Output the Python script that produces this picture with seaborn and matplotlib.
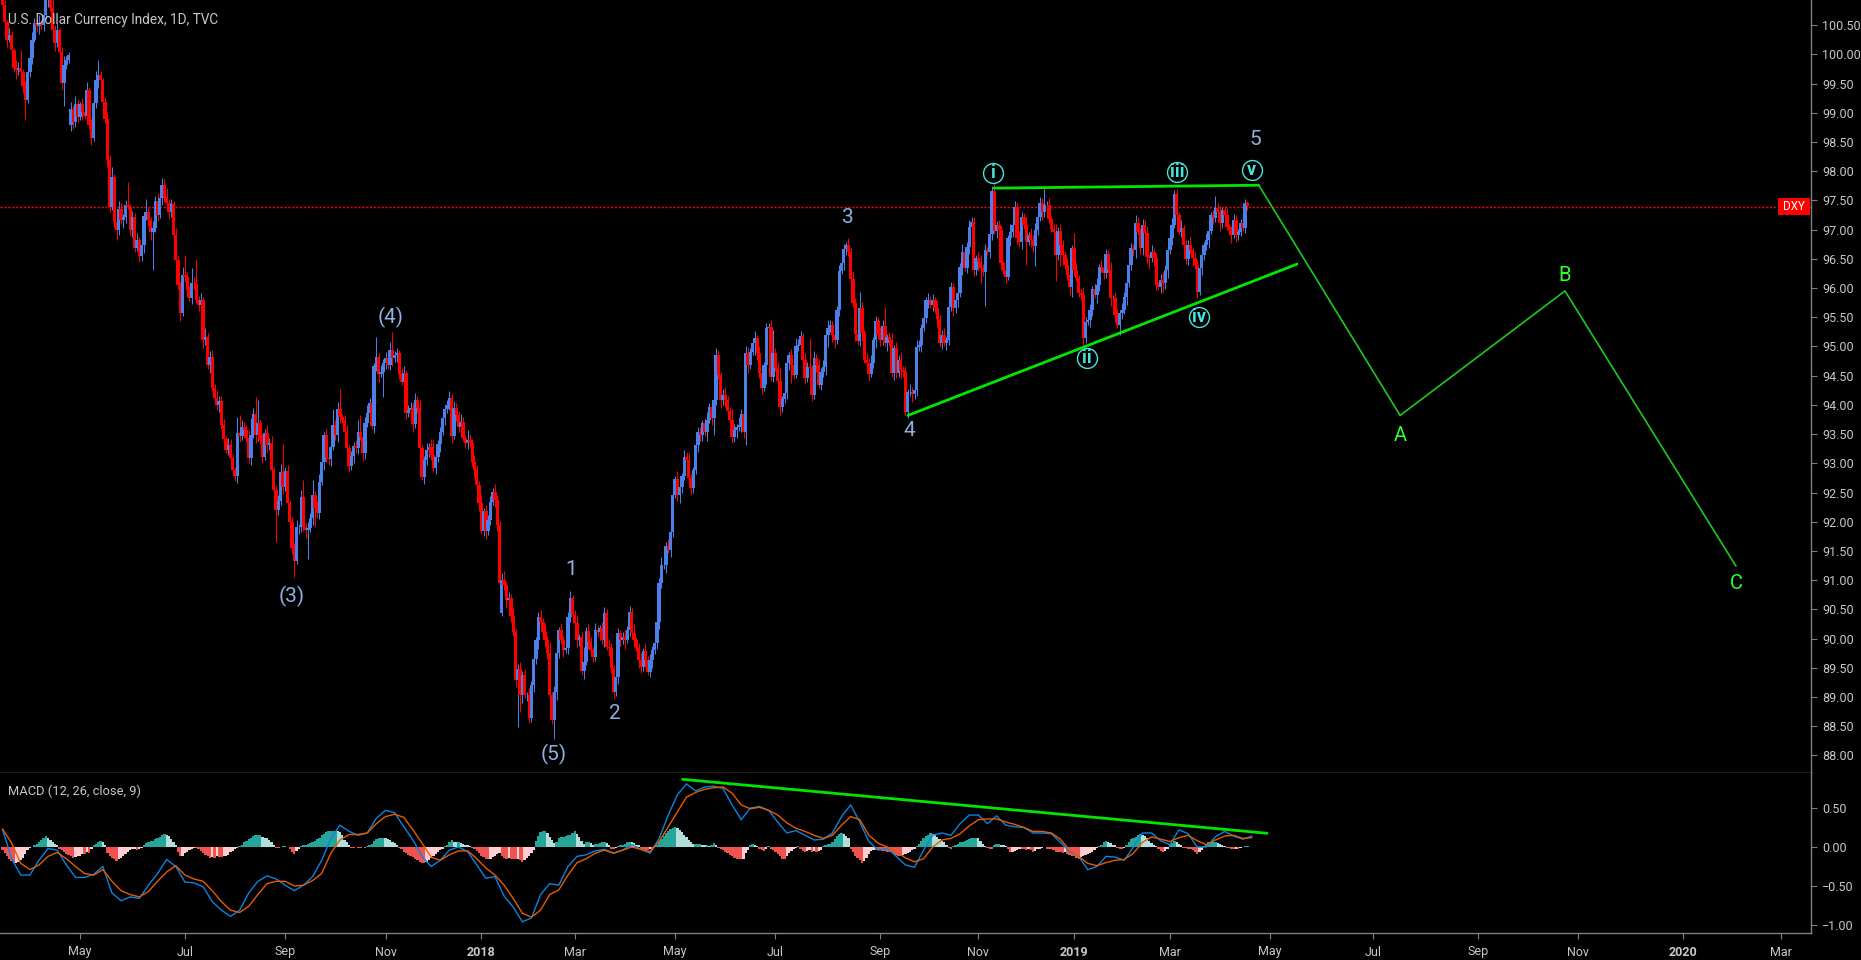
import numpy as np
import pandas as pd
import seaborn as sns
import matplotlib
matplotlib.use('Agg')
import matplotlib.pyplot as plt
from matplotlib.patches import Rectangle

# DXY daily closes, one per trading bar
closes = [
    100.84,100.55,100.25,100.33,100.07,99.77,99.73,99.77,99.70,99.46,99.22,99.70,99.94,100.25,100.54,100.48,100.52,100.50,100.67,100.93,
    101.00,100.80,100.42,100.19,100.42,100.04,99.51,99.82,99.90,99.99,99.06,98.84,99.15,98.93,99.15,99.01,98.94,99.39,98.79,98.57,
    99.17,99.56,99.65,99.56,99.18,98.89,98.19,97.39,97.90,97.13,96.99,97.35,97.16,97.21,97.42,97.39,96.99,97.21,96.68,96.82,
    96.55,96.74,97.23,97.30,97.16,96.96,97.03,97.49,97.25,97.54,97.76,97.56,97.45,97.30,97.44,96.91,96.48,96.05,95.57,96.22,
    96.19,95.96,95.83,96.08,96.07,95.79,95.71,95.79,95.11,95.16,94.68,94.82,94.29,94.12,94.00,94.07,93.65,93.41,93.23,93.31,
    93.09,92.88,92.78,93.52,93.47,93.62,93.57,93.43,93.09,93.48,93.84,93.48,93.69,93.40,93.11,93.52,93.31,93.35,92.88,92.54,
    92.20,92.35,92.85,92.59,92.87,92.32,92.00,91.55,91.33,91.91,91.91,92.42,91.91,91.86,91.89,92.06,92.46,92.23,92.15,92.68,
    93.02,93.48,93.09,93.07,93.28,93.65,93.48,93.93,93.79,93.74,93.53,93.26,92.95,93.12,93.29,93.26,93.53,93.45,93.17,93.69,
    93.86,94.03,93.64,94.66,94.82,94.53,94.56,94.72,94.80,94.68,94.94,94.80,94.85,94.89,94.53,94.39,94.54,93.86,93.91,93.95,
    93.67,94.08,93.95,93.26,92.76,93.05,93.23,93.28,93.14,92.92,93.11,93.33,93.53,93.77,93.93,94.00,94.12,93.47,93.95,93.83,
    93.62,93.71,93.43,93.35,93.40,93.35,93.02,92.88,92.63,92.32,91.84,92.18,91.84,92.03,92.34,92.51,92.37,91.94,90.95,91.00,
    90.92,90.66,90.69,90.38,90.11,89.29,89.48,89.03,89.37,89.03,89.03,88.64,89.20,89.65,89.97,90.37,90.28,90.11,89.97,89.75,
    89.03,88.60,89.08,89.75,90.14,89.97,89.80,89.84,90.37,90.69,90.40,90.26,89.97,90.02,89.44,89.60,90.13,89.94,89.80,89.68,
    90.14,90.11,90.18,89.97,90.44,89.85,89.84,89.49,89.08,89.34,90.09,89.97,90.02,89.97,90.14,90.45,90.09,89.97,89.84,89.63,
    89.51,89.78,89.63,89.43,89.63,89.80,89.92,90.28,90.95,91.26,91.26,91.58,91.51,91.82,92.46,92.73,92.46,92.59,92.78,93.11,
    93.05,92.75,92.58,92.88,93.31,93.53,93.48,93.69,93.53,93.74,93.96,93.77,94.08,94.85,94.51,94.08,94.17,94.08,93.89,93.74,
    93.45,93.57,93.62,93.65,93.84,93.53,94.89,94.68,94.90,95.06,95.14,94.89,94.54,94.29,94.68,95.31,95.33,94.48,94.89,94.63,
    94.41,93.96,94.10,94.20,94.72,94.85,94.68,94.51,95.01,95.02,95.18,94.77,94.46,94.65,94.63,94.17,94.80,94.68,94.34,94.56,
    94.65,95.19,95.31,95.37,95.19,95.11,95.62,96.29,96.43,96.67,96.74,96.62,96.15,95.74,95.21,95.09,95.66,95.23,94.77,94.72,
    94.53,94.72,95.11,95.43,95.19,95.11,95.35,95.06,95.16,95.11,94.54,94.97,94.54,94.77,94.60,94.56,93.88,94.22,94.22,94.18,
    94.25,94.99,95.02,95.31,95.49,95.79,95.79,95.71,95.79,95.66,95.47,95.06,95.19,95.06,95.11,95.67,96.02,95.66,95.79,95.91,
    96.36,96.62,96.34,96.70,97.04,97.13,96.31,96.51,96.44,96.34,96.27,96.65,96.62,96.92,97.66,96.98,97.08,96.99,96.43,96.31,
    96.19,96.86,96.96,97.08,97.39,96.86,96.79,97.21,97.08,96.79,96.91,96.82,96.72,96.99,97.21,97.45,97.30,97.42,97.42,97.18,
    97.01,96.96,96.56,96.98,96.74,96.56,96.39,96.22,96.02,96.68,96.31,96.17,95.91,95.88,95.14,95.42,95.45,95.62,95.98,95.88,
    96.05,96.36,96.34,96.26,96.58,96.31,95.83,95.83,95.54,95.37,95.57,95.62,95.85,96.08,96.39,96.68,96.65,97.11,96.96,96.68,
    97.08,96.94,96.53,96.51,96.62,96.51,96.05,96.02,96.14,96.08,96.31,96.65,96.86,97.08,97.61,97.25,96.96,97.03,96.74,96.50,
    96.74,96.65,96.51,96.39,95.93,96.34,96.56,96.74,96.82,96.98,97.25,97.20,97.37,97.30,97.11,97.33,97.25,97.04,96.99,96.91,
    97.16,96.91,96.96,97.11,97.03,97.45,97.40,
]
# opens follow the previous close except where the chart shows a gap
open_gaps = {30: 98.79, 219: 90.44}

# wick lengths in hundredths of a point
wick_up = [
    6,9,4,12,7,3,14,10,30,5,8,11,6,13,9,4,15,7,10,12,
    6,5,14,8,11,3,9,16,7,5,12,6,14,9,4,11,8,13,5,10,
    7,15,25,6,4,9,12,8,18,5,7,14,10,6,9,40,5,11,8,13,
    6,10,7,22,9,5,12,8,14,6,12,10,15,7,9,5,12,8,6,14,
    34,9,7,27,11,42,8,13,5,16,7,10,12,6,14,9,8,11,5,13,
    10,7,6,27,30,12,9,8,14,30,10,30,40,7,11,6,13,9,12,5,
    8,10,14,48,7,11,6,9,8,12,5,13,30,7,10,9,25,6,12,14,
    8,5,11,7,9,28,10,12,34,6,8,13,5,9,7,11,22,30,6,10,
    14,8,9,5,34,7,12,6,10,8,14,30,7,9,5,11,13,6,8,10,
    9,12,7,14,5,8,11,6,13,26,9,7,10,12,5,8,12,6,11,9,
    7,13,8,5,17,10,6,12,9,7,14,5,11,8,10,6,13,9,7,12,
    15,5,10,8,14,6,9,12,7,11,5,13,8,10,6,9,12,7,14,8,
    20,5,11,9,6,13,7,10,8,12,5,9,14,6,10,26,7,12,8,5,
    13,9,6,11,10,7,14,8,5,12,9,6,10,13,7,11,8,16,5,9,
    12,6,14,7,10,8,5,11,9,13,6,8,12,7,10,5,14,9,6,11,
    8,12,7,5,13,10,9,6,8,14,7,11,5,12,9,6,10,13,8,7,
    19,11,5,14,9,6,12,10,7,8,13,5,11,14,6,9,7,12,40,8,
    10,22,5,13,9,6,11,7,14,10,8,5,12,9,50,6,13,7,10,8,
    11,5,14,9,6,12,7,10,13,8,5,11,6,14,9,7,27,10,5,12,
    8,13,6,9,7,14,10,32,5,8,12,6,11,9,13,7,10,5,14,8,
    6,12,9,7,11,5,13,8,10,6,14,7,9,12,5,11,8,6,13,10,
    7,14,5,9,12,9,8,6,11,13,7,10,5,12,8,14,6,9,7,4,
    11,5,13,8,10,6,12,9,7,14,5,11,8,13,6,10,9,30,7,12,
    5,8,14,6,11,9,7,13,10,5,27,12,6,8,14,9,7,11,5,10,
    13,6,12,8,9,7,14,5,11,10,6,13,8,12,5,9,7,14,10,6,
    11,8,13,5,12,7,9,6,10,14,8,5,11,12,7,9,6,13,5,10,
    8,14,6,11,9,7,12,5,13,10,6,8,20,9,11,5,7,12,6,8,
    10,9,5,7,6,8,4,
]
wick_dn = [
    5,8,12,4,10,7,15,9,6,13,34,5,8,11,4,9,14,6,10,7,
    12,5,9,13,6,8,10,39,7,5,11,12,8,10,6,13,4,9,7,12,
    5,8,14,6,10,7,12,9,5,11,17,8,6,13,10,4,9,12,7,5,
    11,8,14,6,9,13,65,7,10,5,12,8,6,11,9,14,10,7,13,5,
    8,12,6,10,9,4,11,7,13,8,6,14,5,10,9,12,7,11,6,8,
    13,5,9,12,10,7,14,6,8,11,5,13,9,7,10,6,12,8,14,5,
    55,9,7,11,6,13,8,10,27,5,12,9,7,14,49,6,11,32,8,10,
    5,13,7,9,12,6,8,11,10,5,14,7,9,6,12,8,10,5,13,9,
    7,11,6,12,8,14,5,42,10,7,9,13,6,11,8,5,12,10,7,9,
    14,6,8,11,5,12,7,13,9,6,10,8,14,5,11,7,9,12,6,10,
    8,13,5,9,11,7,6,12,10,14,5,8,13,7,9,6,11,10,12,5,
    8,14,6,9,7,11,80,29,13,5,10,8,6,12,9,14,7,5,11,10,
    8,6,31,13,9,7,12,5,10,8,14,6,11,9,7,13,5,12,10,8,
    6,9,14,7,11,5,13,8,10,6,12,9,7,14,5,10,8,11,6,13,
    9,7,12,5,8,14,6,10,11,9,7,13,5,12,8,6,10,14,9,7,
    11,5,13,8,6,12,10,9,7,14,5,11,29,8,6,13,9,12,7,5,
    10,8,14,6,11,9,22,13,7,5,20,12,8,10,6,32,14,7,9,5,
    11,13,8,6,10,12,30,7,5,9,14,8,11,6,13,10,7,12,5,9,
    8,14,20,6,11,13,7,9,5,12,10,8,14,6,11,7,9,13,5,10,
    12,6,8,14,7,11,9,5,13,10,6,12,8,7,14,9,5,11,6,13,
    8,10,7,12,5,9,14,6,11,8,13,7,10,5,12,9,6,14,8,11,
    7,13,5,9,12,6,10,8,14,25,7,58,5,11,9,6,13,8,12,7,
    10,5,14,9,6,11,8,13,7,39,5,12,10,34,8,6,14,9,11,7,
    5,13,44,8,37,12,6,9,14,17,10,5,7,11,13,8,6,12,9,5,
    14,10,7,11,8,6,13,9,12,5,17,10,7,14,6,8,11,13,5,9,
    12,7,10,19,6,14,8,5,11,17,9,13,7,12,6,10,5,8,14,9,
    11,6,13,7,10,5,12,8,9,14,6,11,7,13,14,8,10,5,9,14,
    6,12,8,7,5,9,6,
]

# MACD and signal read at every 4th bar
macd_step = 4
macd_line = [
    .23,-.15,-.36,-.36,-.17,-.02,-.04,-.23,-.39,-.39,-.35,-.25,-.59,-.69,-.64,-.66,-.49,-.34,-.16,-.25,
    -.45,-.46,-.51,-.70,-.81,-.89,-.81,-.59,-.44,-.37,-.41,-.49,-.56,-.49,-.38,-.17,.11,.28,.20,.15,
    .18,.37,.47,.44,.26,.09,-.12,-.25,-.17,-.04,0,-.06,-.23,-.40,-.38,-.63,-.77,-.96,-.91,-.61,
    -.47,-.49,-.25,-.12,-.10,-.05,-.03,-.08,-.04,.03,-.03,-.08,.11,.41,.67,.81,.72,.77,.78,.75,
    .54,.35,.50,.52,.47,.32,.18,.21,.15,.09,.10,.18,.39,.54,.32,.07,-.04,-.02,-.12,-.23,
    -.26,-.04,.15,.18,.15,.30,.41,.41,.30,.40,.28,.26,.25,.18,.18,.17,.06,-.06,-.12,-.29,
    -.25,-.12,-.13,-.17,0,.18,.18,.08,.03,.22,.17,0,0,.13,.20,.14,.10,.14,
]
signal_line = [
    .23,.05,-.21,-.29,-.23,-.12,-.07,-.15,-.25,-.34,-.36,-.29,-.44,-.56,-.61,-.64,-.57,-.44,-.32,-.24,
    -.36,-.41,-.44,-.56,-.70,-.81,-.84,-.76,-.61,-.47,-.44,-.44,-.50,-.49,-.43,-.34,-.08,.09,.16,.16,
    .18,.30,.39,.42,.38,.22,.05,-.13,-.17,-.10,-.05,-.05,-.15,-.27,-.36,-.49,-.66,-.85,-.90,-.81,
    -.61,-.55,-.36,-.20,-.15,-.08,-.04,-.08,-.04,0,-.03,-.06,.07,.26,.45,.64,.70,.74,.76,.77,
    .69,.54,.49,.51,.47,.41,.31,.24,.20,.15,.11,.15,.28,.39,.35,.15,.05,0,-.06,-.14,
    -.19,-.15,0,.09,.11,.17,.27,.35,.36,.36,.32,.29,.25,.20,.20,.18,.10,-.04,-.12,-.21,
    -.24,-.20,-.17,-.16,-.08,.06,.13,.10,.07,.12,.15,.08,.03,.09,.14,.15,.11,.12,
]
# histogram per bar, hundredths
macd_hist = [
    -4,-8,-12,-16,-18,-21,-20,-19,-17,-14,-9,-4,-1,0,
    2,4,6,9,11,14,12,9,6,4,2,
    -2,-4,-6,-9,-10,-12,-14,-13,-12,-11,-9,-9,-7,-8,-3,
    2,4,7,8,6,3,
    -8,-11,-14,-16,-18,-16,-14,-12,-9,-6,-4,-3,-2,-4,-3,-1,
    2,5,7,8,8,10,11,13,16,17,16,14,10,7,3,
    -6,-12,-11,-8,-6,-4,-2,-1,-1,-3,-5,-8,-10,-12,-14,-13,-14,-12,-13,-13,-12,-11,-10,-7,-5,-3,-1,
    1,3,6,8,10,12,14,15,15,15,13,12,11,9,6,2,
    -1,-1,0,1,1,0,-2,-6,-9,-5,-2,
    1,2,3,4,5,6,8,10,12,15,17,19,20,21,21,21,20,19,15,9,6,2,
    -1,-1,0,-1,-1,0,-1,
    1,3,4,8,10,12,12,12,11,10,9,7,5,2,
    -1,-3,-6,-8,-10,-12,-13,-15,-17,-19,-20,-21,-19,-17,-14,-12,-9,-7,-4,-2,
    1,3,7,9,7,6,6,5,4,3,2,1,
    -1,-3,-5,-8,-11,-13,-15,-16,-15,-13,-11,-9,-8,-12,-14,-15,-14,-15,-15,-16,-15,-17,-19,-17,-14,-11,-8,-4,
    8,14,19,21,21,18,13,9,5,7,11,13,13,14,15,16,18,20,17,13,8,4,
    6,6,5,3,4,4,5,6,7,5,2,-2,-3,-1,
    1,2,3,4,6,7,6,5,3,2,-2,-3,-4,-4,-3,-3,
    1,3,6,10,14,18,21,23,25,26,24,22,19,16,13,9,6,4,
    4,4,4,3,2,2,1,2,5,2,
    -1,-2,-4,-6,-8,-10,-12,-14,-16,-16,-16,-15,-8,-4,
    2,4,3,1,-2,-4,-5,-2,1,
    -2,-4,-7,-9,-12,-15,-15,-12,-8,-5,-3,-1,
    1,-2,-5,-6,-5,-4,-7,-5,-7,-5,-4,
    1,3,4,4,6,10,14,17,18,17,14,11,
    -3,-7,-11,-14,-17,-20,-18,-14,-9,-5,-4,-4,-4,-4,-5,-5,-6,-6,-7,-9,-10,-11,-11,-10,-9,-8,-6,-4,-2,
    1,4,8,11,14,16,18,17,15,13,10,8,6,2,
    -1,-3,1,2,4,6,7,8,9,10,11,12,12,11,8,4,1,
    -1,-3,-3,2,4,4,3,2,1,
    -3,-7,-6,-5,-4,-3,-3,-3,-4,-3,-4,-6,-5,-3,-2,-1,0,
    -2,-2,-3,-4,-6,-6,-7,-8,-6,-9,-10,-11,-12,-14,-15,-13,-11,-10,-9,-8,-6,-4,-1,
    1,3,6,8,6,5,3,2,-1,-2,-2,-1,
    3,6,10,12,13,15,17,16,14,11,8,5,3,1,
    -2,-5,-6,-5,-3,2,5,8,7,4,2,
    -1,-1,-2,-3,-4,-6,-9,-7,-4,
    1,3,6,6,6,6,5,4,3,1,
    -1,-1,-2,-3,-2,-2,-1,0,1,1,
]

last_price = 97.39
tick_bars = [34,80,124,168,210,251,295,339,385,428,470,512,556,601,647,691,737,780]
tick_names = ['May','Jul','Sep','Nov','2018','Mar','May','Jul','Sep','Nov','2019','Mar','May','Jul','Sep','Nov','2020','Mar']
price_ticks = np.arange(88, 100.75, 0.5)
macd_ticks = [0.5, 0.0, -0.5, -1.0]

# wave drawings: (bar, price)
upper_trend = ([434.9, 551], [97.71, 97.76])
lower_trend = ([397.1, 567.8], [93.82, 96.41])
abc_path = ([551, 613, 685.3, 760.3], [97.76, 93.82, 95.95, 91.24])
macd_trend = ([298.3, 554.6], [0.868, 0.176])
wave_labels = [('(3)',127,90.73),('(4)',170.4,95.50),('(5)',241.9,88.02),('1',249.3,91.19),
               ('2',268.6,88.71),('3',370.8,97.21),('4',397.6,93.57),('5',549.3,98.55)]
circle_labels = [('i',434.4,97.97),('ii',475.7,94.80),('iii',515.1,97.99),('iv',524.6,95.50),('v',548,98.02)]
abc_labels = [('A',613,93.48),('B',685.3,96.22),('C',760.3,90.95)]

sns.set_theme(style='dark', rc={'axes.facecolor': 'black', 'figure.facecolor': 'black'})
plt.rcParams['font.family'] = ['Roboto', 'DejaVu Sans']

GRAY = '#808080'
TXT = '#c8c8c8'
UP = '#4a80e8'
DOWN = '#ff0000'
GREEN = '#00e600'
WAVE = '#8fb0e0'
CYAN = '#45e6dc'

n = len(closes)
bars = np.arange(n)
df = pd.DataFrame({'bar': bars, 'close': closes})
df['open'] = df['close'].shift(1).fillna(100.93)
for k, v in open_gaps.items():
    df.loc[k, 'open'] = v
df['up'] = np.array((wick_up + [8] * n)[:n]) / 100
df['dn'] = np.array((wick_dn + [8] * n)[:n]) / 100
df['top'] = df[['open', 'close']].max(axis=1)
df['bot'] = df[['open', 'close']].min(axis=1)
df['color'] = np.where(df['close'] >= df['open'], UP, DOWN)

W, H = 1861, 960
fig = plt.figure(figsize=(W / 100, H / 100), dpi=100)
ax = fig.add_axes([0, (H - 773) / H, 1811 / W, 773 / H])
ax2 = fig.add_axes([0, (H - 933) / H, 1811 / W, 160 / H])

# candles
ax.vlines(df['bar'], df['bot'] - df['dn'], df['top'] + df['up'], colors=df['color'], linewidth=0.75, zorder=2)
ax.bar(df['bar'], df['top'] - df['bot'], bottom=df['bot'], width=1.45, color=df['color'], linewidth=0, zorder=3)

ax.axhline(last_price, color=DOWN, linewidth=1, dashes=(1.6, 1.2), zorder=1)
ax.add_patch(Rectangle((1778 / 1811, last_price - 0.145), 32 / 1811, 0.29,
                       transform=ax.get_yaxis_transform(), facecolor=DOWN, edgecolor='none', zorder=6))
ax.text(1794 / 1811, last_price, 'DXY', transform=ax.get_yaxis_transform(), color='white',
        fontsize=8.4, ha='center', va='center', zorder=7)

sns.lineplot(x=upper_trend[0], y=upper_trend[1], color=GREEN, linewidth=2, ax=ax, zorder=4)
sns.lineplot(x=lower_trend[0], y=lower_trend[1], color=GREEN, linewidth=2, ax=ax, zorder=4)
sns.lineplot(x=abc_path[0], y=abc_path[1], color='#1fc81f', linewidth=1.2, sort=False, ax=ax, zorder=4)

for txt, b, p in wave_labels:
    ax.text(b, p, txt, color=WAVE, fontsize=15, ha='center', va='center', zorder=5)
for txt, b, p in abc_labels:
    ax.text(b, p, txt, color='#33ff33', fontsize=14.5, ha='center', va='center', zorder=5)
for txt, b, p in circle_labels:
    ax.scatter([b], [p], s=205, facecolors='black', edgecolors=CYAN, linewidths=1, zorder=5)
    ax.text(b, p, txt, color=CYAN, fontsize=13, fontweight='bold', ha='center', va='center', zorder=6)

# MACD panel
hist = np.array(macd_hist) / 100
prev = np.concatenate([[hist[0]], hist[:-1]])
kinds = np.where(hist >= 0, np.where(hist >= prev, 'pos_up', 'pos_dn'), np.where(hist <= prev, 'neg_dn', 'neg_up'))
hist_df = pd.DataFrame({'bar': np.arange(len(hist)), 'hist': hist, 'kind': kinds})
sns.barplot(data=hist_df, x='bar', y='hist', hue='kind', native_scale=True, dodge=False, width=1,
            palette={'pos_up': '#26a69a', 'pos_dn': '#b2dfdb', 'neg_dn': '#ef5350', 'neg_up': '#ffcdd2'},
            saturation=1, linewidth=0, legend=False, ax=ax2, zorder=2)
line_bars = np.arange(len(macd_line)) * macd_step
sns.lineplot(x=line_bars, y=macd_line, color='#0a84e0', linewidth=1, ax=ax2, zorder=3)
sns.lineplot(x=line_bars, y=signal_line, color='#e65c00', linewidth=1, ax=ax2, zorder=4)
sns.lineplot(x=macd_trend[0], y=macd_trend[1], color=GREEN, linewidth=2, ax=ax2, zorder=5)

for a in (ax, ax2):
    a.set_facecolor('black')
    a.set_xlim(-1.1, 793.2)
    a.grid(False)
    a.set_xlabel('')
    a.set_ylabel('')
    a.yaxis.tick_right()
    a.tick_params(axis='y', length=4, width=0.8, color=GRAY, labelcolor=TXT, labelsize=9, pad=4, right=True)
    for s in ('left', 'top'):
        a.spines[s].set_visible(False)
    for s in ('right', 'bottom'):
        a.spines[s].set_visible(True)
        a.spines[s].set_color(GRAY)
        a.spines[s].set_linewidth(1)

ax.set_ylim(87.70, 100.93)
ax.set_yticks(price_ticks)
ax.set_yticklabels(['%.2f' % v for v in price_ticks])
ax.set_xticks([])

ax2.set_ylim(-1.103, 0.949)
ax2.set_yticks(macd_ticks)
ax2.set_yticklabels(['0.50', '0.00', '\u22120.50', '\u22121.00'])
ax2.set_xticks(tick_bars)
ax2.set_xticklabels(tick_names)
ax2.tick_params(axis='x', length=4, width=0.8, color=GRAY, labelcolor=TXT, labelsize=9, pad=5, bottom=True)
for lab in ax2.get_xticklabels():
    if lab.get_text().startswith('20'):
        lab.set_fontweight('bold')

fig.text(8 / W, 1 - 20 / H, 'U.S. Dollar Currency Index, 1D, TVC', color=TXT, fontsize=9.8, va='center', zorder=10)
fig.text(8 / W, 1 - 791 / H, 'MACD (12, 26, close, 9)', color=TXT, fontsize=9.3, va='center', zorder=10)

fig.savefig('out.png', dpi=100, facecolor='black')
